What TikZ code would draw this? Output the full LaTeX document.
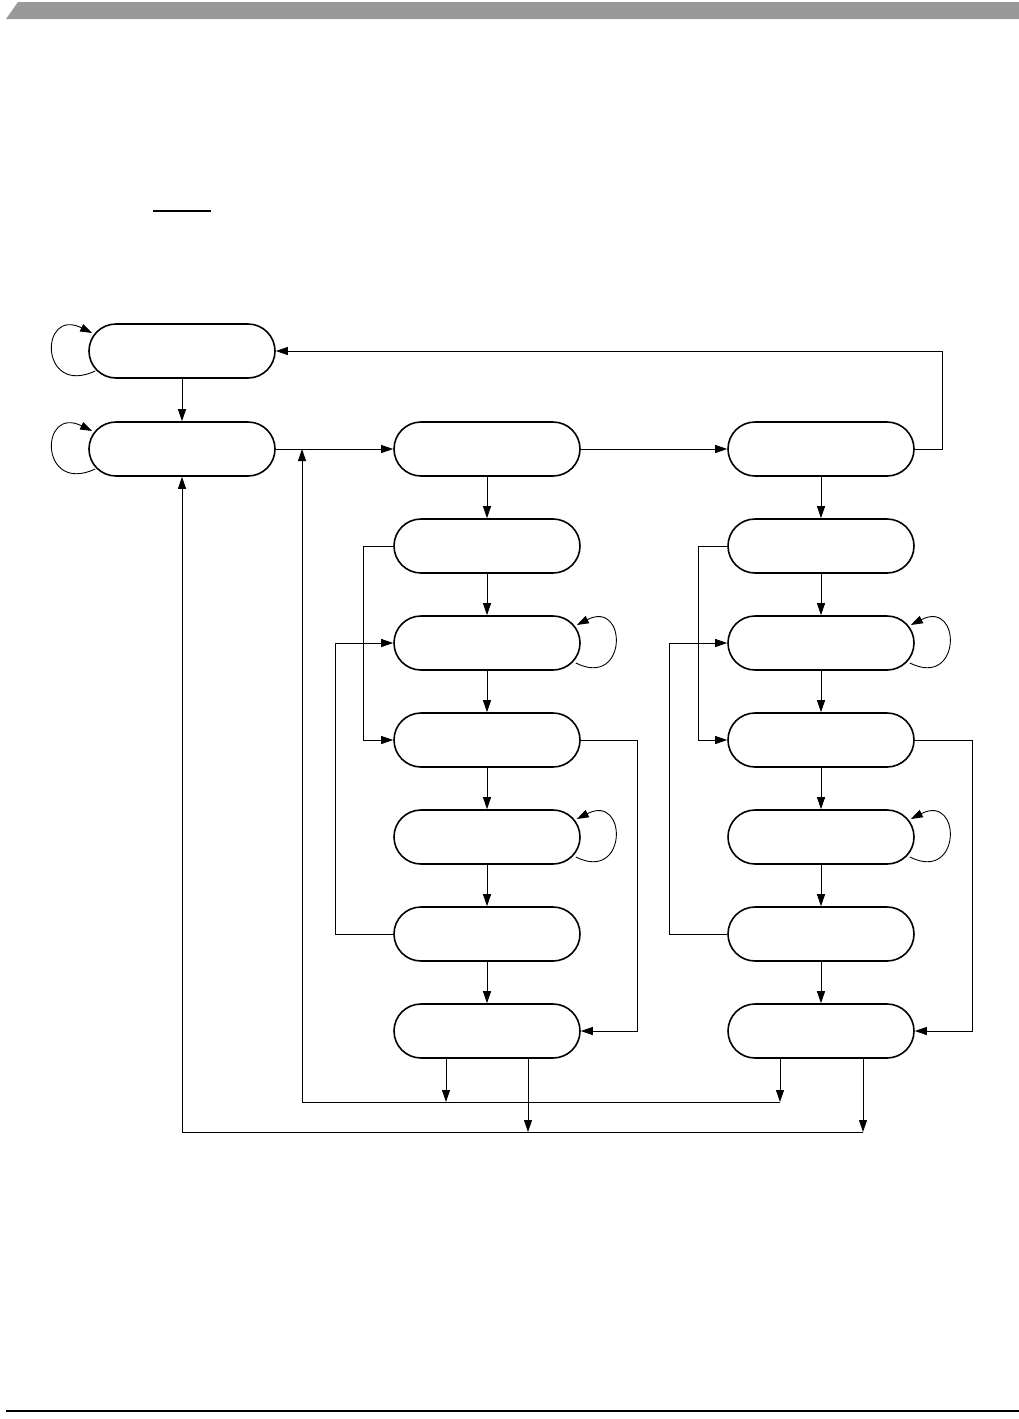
\documentclass[tikz,border=0pt]{standalone}
\usetikzlibrary{shapes.misc,arrows.meta}
\begin{document}
\begin{tikzpicture}[x=1pt,y=-1pt,
 st/.style={rounded rectangle, draw, line width=1.6pt, minimum width=186pt, minimum height=54pt, inner sep=0pt},
 conn/.style={line width=0.9pt},
 arr/.style={conn,-{Triangle[length=12pt,width=8pt]}}]
\useasboundingbox (0,0) rectangle (1019,1419);
\fill[black!40] (6,19) -- (18,2) -- (1019,2) -- (1019,19) -- cycle;
\draw[line width=2pt] (153,211) -- (211,211);
\draw[line width=1.5pt] (6,1411) -- (1019,1411);
% states
\node[st] (a1) at (182,351) {};
\node[st] (a2) at (182,449) {};
\foreach \i/\y in {1/449,2/546,3/643,4/740,5/837,6/934,7/1031}{
  \node[st] (b\i) at (487,\y) {};
  \node[st] (c\i) at (821,\y) {};
}
% coordinates
\coordinate (r1) at (942,449);
\coordinate (r2) at (942,351);
\coordinate (j1) at (302,449);
\coordinate (l1a) at (302,1102);
\coordinate (l1b) at (780,1102);
\coordinate (l1m) at (446,1102);
\coordinate (l2a) at (182,1132);
\coordinate (l2b) at (863,1132);
\coordinate (l2m) at (528,1132);
% main arrows
\draw[arr] (a1) -- (a2);
\draw[arr] (a2.east) -- (b1.west);
\draw[arr] (b1.east) -- (c1.west);
\draw[arr] (c1.east) -- (r1) -- (r2) -- (a1.east);
\foreach \c in {b,c}{
  \draw[arr] (\c1) -- (\c2);
  \draw[arr] (\c2) -- (\c3);
  \draw[arr] (\c3) -- (\c4);
  \draw[arr] (\c4) -- (\c5);
  \draw[arr] (\c5) -- (\c6);
  \draw[arr] (\c6) -- (\c7);
}
\draw[arr] (b2.west) -- ++(-30,0) |- (b4.west);
\draw[arr] (b6.west) -- ++(-58,0) |- (b3.west);
\draw[arr] (b4.east) -- ++(57,0) |- (b7.east);
\draw[arr] (c2.west) -- ++(-29,0) |- (c4.west);
\draw[arr] (c6.west) -- ++(-58,0) |- (c3.west);
\draw[arr] (c4.east) -- ++(58,0) |- (c7.east);
% bottom returns
\draw[arr] (b7.south -| l1m) -- (l1m);
\draw[arr] (b7.south -| l2m) -- (l2m);
\draw[arr] (c7.south -| l1b) -- (l1b);
\draw[arr] (c7.south -| l2b) -- (l2b);
\draw[arr] (l1b) -- (l1a) -- (j1);
\draw[arr] (l2b) -- (l2a) -- (a2.south);
% self loops (left)
\foreach \n in {a1,a2}{
  \draw[arr] ([shift={(7,20)}]\n.west) .. controls ([shift={(-49,46)}]\n.west) and ([shift={(-49,-44)}]\n.west) .. ([shift={(4,-18)}]\n.west);
}
% self loops (right)
\foreach \n in {b3,b5,c3,c5}{
  \draw[arr] ([shift={(-5,20)}]\n.east) .. controls ([shift={(47,46)}]\n.east) and ([shift={(47,-44)}]\n.east) .. ([shift={(-4,-18)}]\n.east);
}
\end{tikzpicture}
\end{document}
